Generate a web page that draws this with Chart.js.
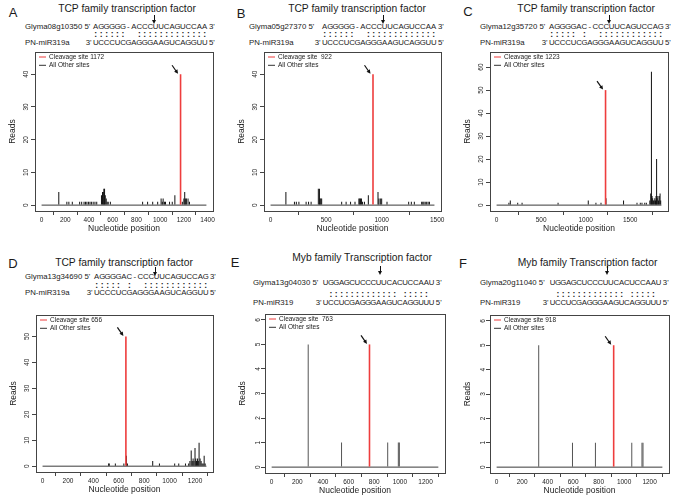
<!DOCTYPE html>
<html><head><meta charset="utf-8">
<script src="https://cdn.jsdelivr.net/npm/chart.js@4.4.1/dist/chart.umd.min.js"></script>
<style>
html,body{margin:0;padding:0;background:#fff}
body{width:685px;height:504px;position:relative;overflow:hidden;font-family:"Liberation Sans",Arial,sans-serif;color:#1a1a1a}
.t{position:absolute;white-space:nowrap;transform:translate(-50%,-50%);line-height:1}
.l{position:absolute;white-space:nowrap;transform:translate(0,-50%);line-height:1}
.r{position:absolute;white-space:nowrap;transform:translate(-100%,-50%);line-height:1}
.cv{position:absolute}
.arr{position:absolute;width:1px;background:#111}
.arr:after{content:"";position:absolute;left:-2px;bottom:-4px;border-left:2.5px solid transparent;border-right:2.5px solid transparent;border-top:4px solid #111}
</style></head><body>
<script>
// ---------------- DATA ----------------
const panelLetters = ['A','B','C','D','E','F'];
const panelTitles = ['TCP family transcription factor','TCP family transcription factor','TCP family transcription factor','TCP family transcription factor','Myb family Transcription factor','Myb family Transcription factor'];
const geneIds = ['Glyma08g10350','Glyma05g27370','Glyma12g35720','Glyma13g34690','Glyma13g04030','Glyma20g11040'];
const targetSeqs = ['AGGGGG-ACCCUUCAGUCCAA','AGGGGG-ACCCUUCAGUCCAA','AGGGGAC-CCCUUCAGUCCAG','AGGGGAC-CCCUUCAGUCCAG','UGGAGCUCCCUUCACUCCAAU','UGGAGCUCCCUUCACUCCAAU'];
const mirNames = ['PN-miR319a','PN-miR319a','PN-miR319a','PN-miR319a','PN-miR319','PN-miR319'];
const mirSeqs = ['UCCCUCGAGGGAAGUCAGGUU','UCCCUCGAGGGAAGUCAGGUU','UCCCUCGAGGGAAGUCAGGUU','UCCCUCGAGGGAAGUCAGGUU','UCCUCGAGGGAAGUCAGGUUU','UCCUCGAGGGAAGUCAGGUUU'];
const pairMasks = ['111111001111111111111','111111001111111111111','111110100111111111111','111110100111111111111','011111111111110111110','011111111111110111110'];
const cleavageSites = [1172, 922, 1223, 656, 763, 918];
const cleavageReads = [40, 40, 50, 50, 5, 5];
const cleavageLabels = ['Cleavage site 1172','Cleavage site  922','Cleavage site 1223','Cleavage site 656','Cleavage site  763','Cleavage site 918'];
const otherLabel = 'All Other sites';
const transcriptLengths = [1390, 1475, 1850, 1290, 1300, 1300];
const yLimits = [45, 45, 64, 56, 6, 6];
const xTickSets = [
  [0,200,400,600,800,1000,1200,1400],
  [0,500,1000,1500],
  [0,500,1000,1500],
  [0,200,400,600,800,1000,1200],
  [0,200,400,600,800,1000,1200],
  [0,200,400,600,800,1000,1200]
];
const yTickSets = [
  [0,10,20,30,40],
  [0,10,20,30,40],
  [0,10,20,30,40,50,60],
  [0,10,20,30,40,50],
  [0,1,2,3,4,5,6],
  [0,1,2,3,4,5,6]
];
const otherPosA = [145,213,230,259,321,338,358,370,382,395,408,420,435,450,465,505,514,520,525,531,537,545,553,562,580,852,894,937,979,1008,1018,1025,1036,1045,1079,1102,1124,1187,1200,1207,1215,1221,1235,1247];
const otherReadsA = [4,1,1,1,1,1,1,1,1,1,1,1,1,1,1,3,4,4,5,5,3,2,1,1,1,1,1,1,1,2,1,2,1,1,1,1,3,1,2,4,2,2,2,1];
const otherPosB = [138,215,232,255,320,342,365,430,440,445,452,460,640,680,720,760,795,802,810,818,828,845,880,967,975,988,1000,1048,1243,1267,1294,1360,1370,1380,1392,1405,1418,1430];
const otherReadsB = [4,1,1,1,1,1,1,5,5,2,2,2,1,1,1,1,2,2,2,2,1,1,3,4,2,2,2,1,1,1,1,1,1,1,1,1,1,1];
const otherPosC = [138,154,237,286,690,1029,1115,1172,1228,1425,1576,1613,1632,1663,1681,1720,1730,1738,1745,1752,1760,1768,1776,1784,1790,1796,1802,1810,1818,1826,1835,1842];
const otherReadsC = [1,2,1,1,1,2,1,1,3,2,1,1,1,1,1,2,5,58,4,3,2,2,3,2,4,20,3,4,2,4,5,2];
const otherPosD = [520,525,573,640,660,668,867,920,1040,1072,1125,1150,1160,1170,1178,1185,1192,1200,1206,1212,1220,1226,1232,1240,1248,1256,1264,1272,1280];
const otherReadsD = [1,1,1,1,4,1,2,1,1,1,1,1,2,6,2,3,2,7,3,2,3,2,9,3,2,1,1,4,1];
const otherPosE = [285,545,905,988,996];
const otherReadsE = [5,1,1,1,1];
const otherPosF = [330,595,775,1060,1140,1148];
const otherReadsF = [5,1,1,1,1,1];
const otherPositions = [otherPosA,otherPosB,otherPosC,otherPosD,otherPosE,otherPosF];
const otherReads = [otherReadsA,otherReadsB,otherReadsC,otherReadsD,otherReadsE,otherReadsF];

// ---------------- LAYOUT ----------------
const GEOM = [
 {box:[35,52,213,211], letter:[13,12], title:[127,9], y1:27, yc:34, y3:43, nameX:25, seqX:93, cell:5.45, arrowX:154, arrowY:[15,24], barColor:'#111'},
 {box:[264,52,441,211], letter:[241,13], title:[357,8.5], y1:27, yc:34, y3:43, nameX:249, seqX:322, cell:5.45, arrowX:383, arrowY:[15,24], barColor:'#111'},
 {box:[490,52,668,211], letter:[468,11], title:[586,8.5], y1:27, yc:34, y3:43, nameX:480, seqX:549, cell:5.45, arrowX:609, arrowY:[15,24], barColor:'#111'},
 {box:[36,315,213,472], letter:[13,262.5], title:[124,263], y1:277, yc:285, y3:293, nameX:25, seqX:94, cell:5.45, arrowX:155, arrowY:[267,276], barColor:'#111'},
 {box:[265,314,445,473], letter:[235,261.5], title:[362,258], y1:283, yc:294, y3:303, nameX:253, seqX:323, cell:5.3, arrowX:380, arrowY:[266,275], barColor:'#555'},
 {box:[490,315,669,473], letter:[463,262.5], title:[587.5,262.5], y1:283, yc:294, y3:303, nameX:480, seqX:550, cell:5.3, arrowX:607, arrowY:[266,275], barColor:'#555'}
];
const RED = '#ee3d3d';
const FONT = '"Liberation Sans", Arial, sans-serif';
Chart.defaults.font.family = FONT;
Chart.defaults.color = '#222';

function addText(cls, x, y, txt, size, extra){
  const d = document.createElement('div');
  d.className = cls; d.textContent = txt;
  d.style.left = x + 'px'; d.style.top = y + 'px'; d.style.fontSize = size + 'px';
  if (extra) Object.assign(d.style, extra);
  document.body.appendChild(d);
  return d;
}

const annotPlugin = {
  id: 'annot',
  afterDraw(chart) {
    const o = chart.options.plugins.annot;
    const {ctx, chartArea: a, scales: {x, y}} = chart;
    ctx.save();
    ctx.strokeStyle = '#444'; ctx.lineWidth = 1;
    ctx.strokeRect(Math.round(a.left) + 0.5, Math.round(a.top) + 0.5, Math.round(a.right) - Math.round(a.left), Math.round(a.bottom) - Math.round(a.top));
    ctx.font = '6.5px ' + FONT; ctx.textBaseline = 'middle'; ctx.fillStyle = '#222';
    const rows = [[RED, o.label1], ['#333', o.label2]];
    rows.forEach((r, k) => {
      const lx = a.left + 4, ly = a.top + 5 + k * 8.3;
      ctx.strokeStyle = r[0]; ctx.lineWidth = 1;
      ctx.beginPath(); ctx.moveTo(lx, ly); ctx.lineTo(lx + 7, ly); ctx.stroke();
      ctx.fillText(r[1], lx + 10, ly);
    });
    const px = x.getPixelForValue(o.site), py = y.getPixelForValue(o.reads);
    const hx = px - 2.5, hy = py - 0.5, tx = px - 8.5, ty = py - 9;
    ctx.strokeStyle = '#111'; ctx.fillStyle = '#111'; ctx.lineWidth = 1.2;
    ctx.beginPath(); ctx.moveTo(tx, ty); ctx.lineTo(hx - 1.5, hy - 2); ctx.stroke();
    const ang = Math.atan2(hy - ty, hx - tx);
    ctx.beginPath();
    ctx.moveTo(hx, hy);
    ctx.lineTo(hx - 4 * Math.cos(ang) + 2 * Math.sin(ang), hy - 4 * Math.sin(ang) - 2 * Math.cos(ang));
    ctx.lineTo(hx - 4 * Math.cos(ang) - 2 * Math.sin(ang), hy - 4 * Math.sin(ang) + 2 * Math.cos(ang));
    ctx.closePath(); ctx.fill();
    ctx.restore();
  }
};

function buildPanel(i){
  const g = GEOM[i];
  addText('t', g.letter[0], g.letter[1], panelLetters[i], 13);
  addText('t', g.title[0], g.title[1], panelTitles[i], 10.3);
  const fs = 7.8;
  const seqEnd = g.seqX + g.cell * targetSeqs[i].length;
  addText('l', g.nameX, g.y1, geneIds[i] + ' 5\'', fs);
  addText('l', seqEnd + 1.5, g.y1, '3\'', fs);
  addText('l', g.nameX, g.y3, mirNames[i], fs);
  addText('r', g.seqX - 1.5, g.y3, '3\'', fs);
  addText('l', seqEnd + 1.5, g.y3, '5\'', fs);
  for (let k = 0; k < targetSeqs[i].length; k++){
    const cx = g.seqX + g.cell * (k + 0.5);
    addText('t', cx, g.y1, targetSeqs[i][k], fs);
    addText('t', cx, g.y3, mirSeqs[i][k], fs);
    if (pairMasks[i][k] === '1') addText('t', cx, g.yc, ':', 8.5, {fontWeight:'bold'});
  }
  const ar = document.createElement('div');
  ar.className = 'arr';
  ar.style.left = g.arrowX + 'px'; ar.style.top = g.arrowY[0] + 'px'; ar.style.height = (g.arrowY[1] - g.arrowY[0] - 4) + 'px';
  document.body.appendChild(ar);

  const [L, T, R, B] = g.box;
  const padT = 6, padR = 8, yW = 32, xH = 28;
  const cw = (R - L) + yW + padR, ch = (B - T) + padT + xH;
  const cv = document.createElement('canvas');
  cv.className = 'cv';
  cv.width = cw; cv.height = ch;
  cv.style.left = (L - yW) + 'px'; cv.style.top = (T - padT) + 'px';
  cv.style.width = cw + 'px'; cv.style.height = ch + 'px';
  document.body.appendChild(cv);

  const len = transcriptLengths[i];
  const xmin = -0.04 * len, xmax = 1.04 * len;
  const ymin = -0.04 * yLimits[i], ymax = 1.04 * yLimits[i];
  const others = otherPositions[i].map((p, k) => ({x: p, y: otherReads[i][k]}));

  new Chart(cv, {
    type: 'bar',
    data: {
      datasets: [
        {type: 'line', data: [{x: 0, y: 0}, {x: len, y: 0}], borderColor: '#3a3a3a', borderWidth: 1, pointRadius: 0, order: 3},
        {type: 'bar', data: others, backgroundColor: g.barColor, barThickness: 1, inflateAmount: 0, borderWidth: 0, stack: 's', order: 2},
        {type: 'bar', data: [{x: cleavageSites[i], y: cleavageReads[i]}], backgroundColor: RED, barThickness: 1.6, inflateAmount: 0, borderWidth: 0, stack: 's', order: 1}
      ]
    },
    options: {
      responsive: false, animation: false, devicePixelRatio: 1,
      layout: {padding: {left: 0, top: padT, right: padR, bottom: 0}},
      plugins: {
        legend: {display: false}, tooltip: {enabled: false},
        annot: {label1: cleavageLabels[i], label2: otherLabel, site: cleavageSites[i], reads: cleavageReads[i]}
      },
      scales: {
        x: {
          type: 'linear', min: xmin, max: xmax, offset: false,
          afterBuildTicks: s => { s.ticks = xTickSets[i].map(v => ({value: v})); },
          afterFit: s => { s.height = xH; },
          grid: {display: true, drawOnChartArea: false, drawTicks: true, tickLength: 4, color: '#444', lineWidth: 1},
          border: {display: true, color: '#444', width: 1},
          ticks: {font: {size: 6.5}, color: '#222', padding: 1, maxRotation: 0, autoSkip: false, callback: v => String(v)},
          title: {display: true, text: 'Nucleotide position', font: {size: 8.5}, color: '#222', padding: {top: 0, bottom: 5}}
        },
        y: {
          type: 'linear', min: ymin, max: ymax,
          afterBuildTicks: s => { s.ticks = yTickSets[i].map(v => ({value: v})); },
          afterFit: s => { s.width = yW; },
          grid: {display: true, drawOnChartArea: false, drawTicks: true, tickLength: 4, color: '#444', lineWidth: 1},
          border: {display: true, color: '#444', width: 1},
          ticks: {font: {size: 6.5}, color: '#222', padding: 1, minRotation: 90, maxRotation: 90, crossAlign: 'center', autoSkip: false, callback: v => String(v)},
          title: {display: true, text: 'Reads', font: {size: 8.5}, color: '#222', padding: {top: 5, bottom: 0}}
        }
      }
    },
    plugins: [annotPlugin]
  });
}

for (let i = 0; i < 6; i++) buildPanel(i);
</script>
</body></html>
